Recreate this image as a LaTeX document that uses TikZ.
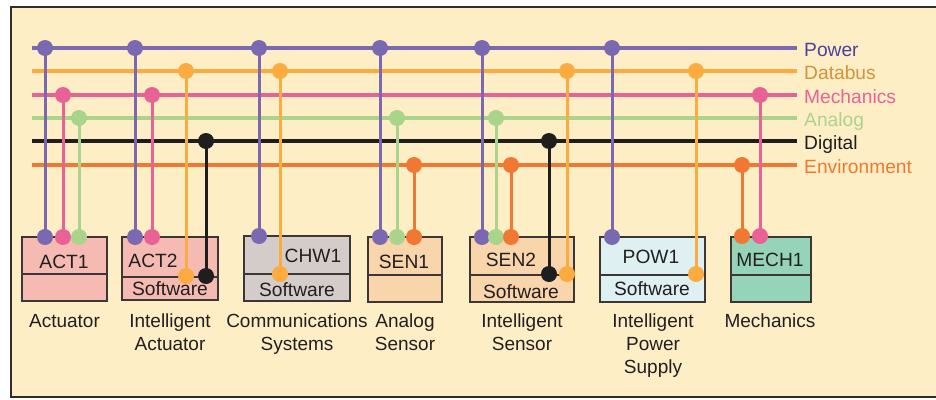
\documentclass[tikz,border=0pt]{standalone}
\usepackage{fontspec}
\setmainfont{Liberation Sans}
\definecolor{bg}{RGB}{253,238,197}
\definecolor{framecol}{RGB}{50,45,45}
\definecolor{cpower}{RGB}{122,104,176}
\definecolor{cdata}{RGB}{251,171,64}
\definecolor{cmech}{RGB}{232,98,150}
\definecolor{canalog}{RGB}{170,212,140}
\definecolor{cdigital}{RGB}{30,30,30}
\definecolor{cenv}{RGB}{241,120,50}
\definecolor{tpower}{RGB}{75,65,155}
\definecolor{tdata}{RGB}{212,146,58}
\definecolor{txt}{RGB}{35,31,32}
\definecolor{fact}{RGB}{245,186,178}
\definecolor{fchw}{RGB}{211,204,201}
\definecolor{fsen}{RGB}{249,213,172}
\definecolor{fpow}{RGB}{222,240,242}
\definecolor{fmech}{RGB}{150,212,185}
\definecolor{boxline}{RGB}{60,55,55}
\newcommand\mytap[5]{%
  \coordinate (#1t) at (#3,#4);
  \coordinate (#1b) at (#3,#5);
  \draw[wire, #2] (#1t) -- (#1b);
  \fill[#2] (#1t) circle (8pt);
  \fill[#2] (#1b) circle (8pt);
}
\begin{document}
\begin{tikzpicture}[x=1pt,y=-1pt,
  bus/.style={line width=3.3pt},
  wire/.style={line width=3pt},
  buslabel/.style={anchor=base west, inner sep=0pt, font=\fontsize{19.2}{23}\selectfont},
  txtlabel/.style={anchor=base, inner sep=0pt, text=txt, font=\fontsize{19.2}{23}\selectfont},
  caption/.style={anchor=north, inner sep=0pt, align=center, text=txt, font=\fontsize{19}{23}\selectfont},
  unit/.style={draw=boxline, line width=1.8pt, inner sep=0pt}
]
\useasboundingbox (0,0) rectangle (936,399);
\fill[bg] (11,7) rectangle (936,397);
\draw[line width=1.5pt, framecol] (936,7) -- (11,7) -- (11,397) -- (936,397);

% buses
\foreach \n/\c/\y in {power/cpower/48, data/cdata/71, mech/cmech/95, analog/canalog/118, digital/cdigital/141, env/cenv/165}{
  \coordinate (\n S) at (32,\y);
  \coordinate (\n E) at (797,\y);
  \draw[bus, \c] (\n S) -- (\n E);
}
\node[buslabel, text=tpower] (lpower) at (804,56.5) {Power};
\node[buslabel, text=tdata] (ldata) at (804,79.5) {Databus};
\node[buslabel, text=cmech] (lmech) at (804,103.5) {Mechanics};
\node[buslabel, text=canalog] (lanalog) at (804,126.5) {Analog};
\node[buslabel, text=cdigital] (ldigital) at (804,149.5) {Digital};
\node[buslabel, text=cenv] (lenv) at (804,173.5) {Environment};

% boxes
\node[unit, fill=fact, minimum width=85pt, minimum height=64pt] (act1) at (64.5,269) {};
\draw[boxline, line width=1.5pt] (act1.west |- 0,274) -- (act1.east |- 0,274);
\node[unit, fill=fact, minimum width=96pt, minimum height=63pt] (act2) at (170,268.5) {};
\draw[boxline, line width=1.5pt] (act2.west |- 0,277) -- (act2.east |- 0,277);
\node[unit, fill=fchw, minimum width=106pt, minimum height=65pt] (chw1) at (297,268.5) {};
\draw[boxline, line width=1.5pt] (chw1.west |- 0,274) -- (chw1.east |- 0,274);
\node[unit, fill=fsen, minimum width=74pt, minimum height=65pt] (sen1) at (405,269.5) {};
\draw[boxline, line width=1.5pt] (sen1.west |- 0,275) -- (sen1.east |- 0,275);
\node[unit, fill=fsen, minimum width=104pt, minimum height=65pt] (sen2) at (522,269.5) {};
\draw[boxline, line width=1.5pt] (sen2.west |- 0,275) -- (sen2.east |- 0,275);
\node[unit, fill=fpow, minimum width=105pt, minimum height=65pt] (pow1) at (652.5,269.5) {};
\draw[boxline, line width=1.5pt] (pow1.west |- 0,275) -- (pow1.east |- 0,275);
\node[unit, fill=fmech, minimum width=80pt, minimum height=65pt] (mech1) at (771,269.5) {};
\draw[boxline, line width=1.5pt] (mech1.west |- 0,275) -- (mech1.east |- 0,275);

% taps
\mytap{aa}{cpower}{45}{48}{237}
\mytap{ab}{cmech}{63}{95}{237}
\mytap{ac}{canalog}{79}{118}{237}
\mytap{ba}{cpower}{135}{48}{237}
\mytap{bb}{cmech}{152}{95}{237}
\mytap{bc}{cdata}{186}{71}{276}
\mytap{bd}{cdigital}{206}{141}{276}
\mytap{ca}{cpower}{259}{48}{236}
\mytap{cb}{cdata}{280}{71}{274}
\mytap{da}{cpower}{380}{48}{237}
\mytap{db}{canalog}{397}{118}{237}
\mytap{dc}{cenv}{414}{165}{237}
\mytap{ea}{cpower}{482}{48}{237}
\mytap{eb}{canalog}{496}{118}{237}
\mytap{ec}{cenv}{511}{165}{237}
\mytap{ed}{cdigital}{549}{141}{274}
\mytap{ee}{cdata}{567}{71}{274}
\mytap{fa}{cpower}{612}{48}{237}
\mytap{fb}{cdata}{696}{71}{274}
\mytap{ga}{cenv}{742}{165}{236}
\mytap{gb}{cmech}{760}{95}{236}

% box labels
\node[txtlabel] (tact1) at (64,268) {ACT1};
\node[txtlabel] (tact2) at (153,267) {ACT2};
\node[txtlabel] (sact2) at (170,295) {Software};
\node[txtlabel] (tchw1) at (313,262) {CHW1};
\node[txtlabel] (schw1) at (297,296) {Software};
\node[txtlabel] (tsen1) at (404,268) {SEN1};
\node[txtlabel] (tsen2) at (511,266) {SEN2};
\node[txtlabel] (ssen2) at (521,298) {Software};
\node[txtlabel] (tpow1) at (651,263) {POW1};
\node[txtlabel] (spow1) at (652,295) {Software};
\node[txtlabel] (tmech1) at (770,266) {MECH1};

% captions
\node[caption] (cact1) at (64.5,314) {Actuator};
\node[caption] (cact2) at (170,314) {Intelligent\\Actuator};
\node[caption] (cchw1) at (297,314) {Communications\\Systems};
\node[caption] (csen1) at (405,314) {Analog\\Sensor};
\node[caption] (csen2) at (522,314) {Intelligent\\Sensor};
\node[caption] (cpow1) at (653,314) {Intelligent\\Power\\Supply};
\node[caption] (cmech1) at (770,314) {Mechanics};
\end{tikzpicture}
\end{document}
